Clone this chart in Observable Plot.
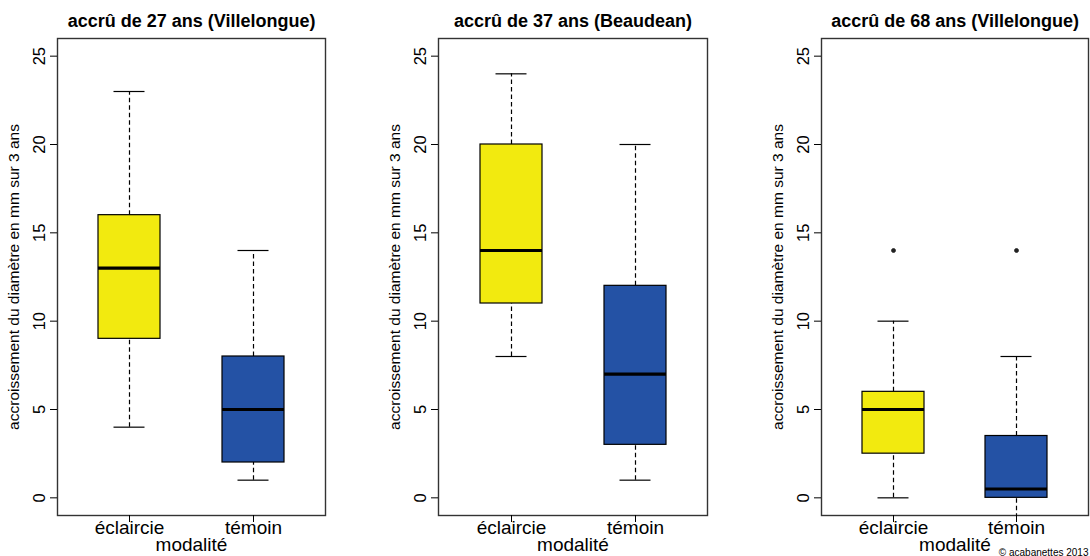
<!DOCTYPE html>
<html>
<head>
<meta charset="utf-8">
<script src="https://cdn.jsdelivr.net/npm/d3@7"></script>
<script src="https://cdn.jsdelivr.net/npm/@observablehq/plot@0.6"></script>
<style>
  body { margin: 0; background: #fff; }
  #chart { display: flex; width: 1090px; height: 556px; overflow: hidden; background: #fff; }
  #chart svg { display: block; flex: none; }
</style>
</head>
<body>
<div id="chart"></div>
<script>
// ---- data ----
const panelTitles = [
  "accrû de 27 ans (Villelongue)",
  "accrû de 37 ans (Beaudean)",
  "accrû de 68 ans (Villelongue)"
];
const modalites = ["éclaircie", "témoin"];
const whiskerLow  = [[4, 1], [8, 1], [0, -2]];
const quartile1   = [[9, 2], [11, 3], [2.5, 0]];
const medians     = [[13, 5], [14, 7], [5, 0.5]];
const quartile3   = [[16, 8], [20, 12], [6, 3.5]];
const whiskerHigh = [[23, 14], [24, 20], [10, 8]];
const outlierPanel    = [2, 2];
const outlierModalite = ["éclaircie", "témoin"];
const outlierValue    = [14, 14];
const yTicks = [0, 5, 10, 15, 20, 25];
const yLabel = "accroissement du diamètre en mm sur 3 ans";
const xLabel = "modalité";
const fillColors = ["#F2EA0F", "#2452A5"];
const copyright = "© acabanettes 2013";

// ---- layout ----
const layouts = [
  {width: 380, marginLeft: 57, marginRight: 55},
  {width: 380, marginLeft: 58, marginRight: 53},
  {width: 330, marginLeft: 61, marginRight: 2}
];
const font = "'Liberation Sans', Arial, Helvetica, sans-serif";
const chart = document.getElementById("chart");

panelTitles.forEach((title, p) => {
  const rows = modalites.map((m, i) => ({
    modalite: m,
    low: whiskerLow[p][i],
    q1: quartile1[p][i],
    med: medians[p][i],
    q3: quartile3[p][i],
    high: whiskerHigh[p][i]
  }));
  const outs = outlierPanel
    .map((pp, i) => ({panel: pp, modalite: outlierModalite[i], value: outlierValue[i]}))
    .filter(d => d.panel === p);
  const L = layouts[p];
  const marks = [
    Plot.ruleX(rows, {x: "modalite", y1: "q3", y2: "high", stroke: "#000", strokeWidth: 1.2, strokeDasharray: "4.5,3", clip: true}),
    Plot.ruleX(rows, {x: "modalite", y1: "low", y2: "q1", stroke: "#000", strokeWidth: 1.2, strokeDasharray: "4.5,3", clip: true}),
    Plot.tickY(rows, {x: "modalite", y: "high", stroke: "#000", strokeWidth: 1.2, insetLeft: 15.5, insetRight: 15.5, clip: true}),
    Plot.tickY(rows, {x: "modalite", y: "low", stroke: "#000", strokeWidth: 1.2, insetLeft: 15.5, insetRight: 15.5, clip: true}),
    Plot.barY(rows, {x: "modalite", y1: "q1", y2: "q3", fill: "modalite", stroke: "#000", strokeWidth: 1.2}),
    Plot.tickY(rows, {x: "modalite", y: "med", stroke: "#000", strokeWidth: 3.2}),
    Plot.dot(outs, {x: "modalite", y: "value", r: 2, fill: "#222", stroke: "#222", strokeWidth: 0.8}),
    Plot.frame({stroke: "#333", strokeWidth: 1.4}),
    Plot.axisY({ticks: yTicks, tickSize: 7, tickPadding: 6, tickRotate: -90, fontSize: 16.5, label: null}),
    Plot.axisY({ticks: [], tickSize: 0, label: yLabel, labelAnchor: "center", labelArrow: "none", labelOffset: 50, fontSize: 15.5}),
    Plot.axisX({tickSize: 7, tickPadding: -2, fontSize: 19, label: xLabel, labelAnchor: "center", labelArrow: "none", labelOffset: 35}),
    Plot.text([title], {frameAnchor: "top", dy: -24, fontWeight: "bold", fontSize: 18, fill: "#000"})
  ];
  if (p === 2) {
    marks.push(Plot.text([copyright], {frameAnchor: "bottom-right", textAnchor: "end", lineAnchor: "bottom", dy: 40, dx: 0, fontSize: 10, fill: "#000"}));
  }
  const svg = Plot.plot({
    width: L.width,
    height: 556,
    marginLeft: L.marginLeft,
    marginRight: L.marginRight,
    marginTop: 38,
    marginBottom: 41,
    style: {fontFamily: font, fontSize: "19px", color: "#000", background: "#fff", overflow: "visible"},
    x: {type: "band", domain: modalites, paddingInner: 0.5, paddingOuter: 0.33, label: null},
    y: {domain: [-1, 26], label: null},
    color: {domain: modalites, range: fillColors},
    marks
  });
  chart.appendChild(svg);
});
</script>
</body>
</html>
